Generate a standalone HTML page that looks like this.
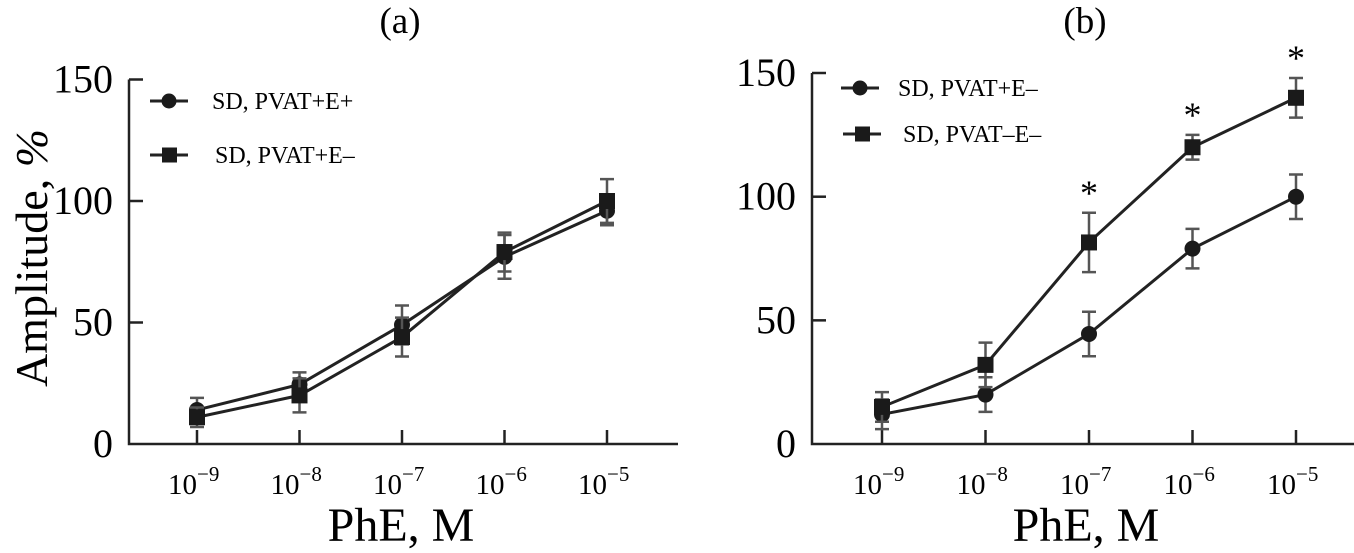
<!DOCTYPE html>
<html><head><meta charset="utf-8"><style>
html,body{margin:0;padding:0;background:#fff}
svg{display:block;font-family:"Liberation Serif",serif}
</style></head><body>
<svg id="c" width="1354" height="553" viewBox="0 0 1354 553"></svg>
<script>
const categories = ["−9","−8","−7","−6","−5"];
const yTicks = [0,50,100,150];
const aCircle = [14,24.5,49,77,96];
const aCircleErr = [5,5,8,9,6];
const aSquare = [11,20,44,79,100];
const aSquareErr = [4,7,8,8,9];
const bCircle = [12,20,44.5,79,100];
const bCircleErr = [6,7,9,8,9];
const bSquare = [15,32,81.5,120,140];
const bSquareErr = [6,9,12,5,8];
const bStars = [false,false,true,true,true];

const NS="http://www.w3.org/2000/svg";
const svg=document.getElementById('c');
function mk(tag,attrs,parent){const e=document.createElementNS(NS,tag);for(const k in attrs)e.setAttribute(k,attrs[k]);(parent||svg).appendChild(e);return e;}

function panel(p){
  const g=mk('g',{});
  
  
  const X=i=>p.x0+i*p.dx;
  const Y=v=>p.y0-v*p.ky;
  const t=mk('text',{x:p.titleX,y:33,'font-size':37,'text-anchor':'middle'},g);t.textContent=p.title;
  
  const ax=mk('path',{d:`M${p.ax} ${Y(150)} H${p.ax+14} M${p.ax} ${Y(150)} V${p.y0} H${p.axEnd}`,stroke:'#222','stroke-width':2.5,fill:'none'},g);
  
  yTicks.forEach(v=>{
    if(v>0&&v<150){const l=mk('line',{x1:p.ax,x2:p.ax+14,y1:Y(v),y2:Y(v),stroke:'#222','stroke-width':2.5},g);
    }
    const tl=mk('text',{x:p.ax-16,y:Y(v)+13,'font-size':40,'text-anchor':'end'},g);tl.textContent=v;
    
  });
  categories.forEach((c,i)=>{
    const l=mk('line',{x1:X(i),x2:X(i),y1:p.y0,y2:p.y0-14,stroke:'#222','stroke-width':2.5},g);
    
    const tl=mk('text',{x:X(i)-29,y:494,'font-size':29},g);
    
    const a=mk('tspan',{},tl);a.textContent='10';
    const b=mk('tspan',{dy:-13,'font-size':21},tl);b.textContent=c;
  });
  const xt=mk('text',{x:p.xTitleX,y:541,'font-size':48,'text-anchor':'middle'},g);xt.textContent='PhE, M';
  
  p.series.forEach(s=>{
    const sg=mk('g',{},g);
    
    s.vals.forEach((v,i)=>{
      const e=s.err[i],x=X(i);
      const eb=mk('path',{d:`M${x} ${Y(v+e)} V${Y(v-e)} M${x-7} ${Y(v+e)} H${x+7} M${x-7} ${Y(v-e)} H${x+7}`,stroke:'#555','stroke-width':2.5,fill:'none'},sg);
      
    });
    const pl=mk('polyline',{points:s.vals.map((v,i)=>X(i)+','+Y(v)).join(' '),stroke:'#222','stroke-width':3,fill:'none'},sg);
    
    s.vals.forEach((v,i)=>{
      let m;
      if(s.shape==='c')m=mk('circle',{cx:X(i),cy:Y(v),r:8,fill:'#1a1a1a'},sg);
      else m=mk('rect',{x:X(i)-8,y:Y(v)-8,width:16,height:16,fill:'#1a1a1a'},sg);
      
    });
    if(s.stars){s.vals.forEach((v,i)=>{if(s.stars[i]){
      const st=mk('text',{x:X(i),y:Y(v+s.err[i])-8,'font-size':36,'text-anchor':'middle'},sg);st.textContent='*';
      }});}
  });
  p.legend.forEach(L=>{
    const lg=mk('g',{},g);
    
    mk('line',{x1:L.x,x2:L.x+38,y1:L.y,y2:L.y,stroke:'#222','stroke-width':3},lg);
    if(L.shape==='c')mk('circle',{cx:L.x+19,cy:L.y,r:7.5,fill:'#1a1a1a'},lg);
    else mk('rect',{x:L.x+12,y:L.y-7.5,width:15,height:15,fill:'#1a1a1a'},lg);
    const tx=mk('text',{x:L.tx,y:L.y+8,'font-size':24},lg);tx.textContent=L.label;
  });
}

panel({name:'panel-a',title:'(a)',titleX:400,x0:197,dx:102.5,y0:444,ky:2.43,ax:129,axEnd:678,xTitleX:401,
  series:[{name:'series-pvat-plus-e-plus',shape:'c',vals:aCircle,err:aCircleErr},
          {name:'series-pvat-plus-e-minus',shape:'s',vals:aSquare,err:aSquareErr}],
  legend:[{x:150,y:101,tx:212,shape:'c',label:'SD, PVAT+E+'},{x:150,y:155,tx:215,shape:'s',label:'SD, PVAT+E–'}]});
panel({name:'panel-b',title:'(b)',titleX:1085,x0:882,dx:103.5,y0:444,ky:2.473,ax:812,axEnd:1354,xTitleX:1086,
  series:[{name:'series-pvat-plus-e-minus',shape:'c',vals:bCircle,err:bCircleErr},
          {name:'series-pvat-minus-e-minus',shape:'s',vals:bSquare,err:bSquareErr,stars:bStars}],
  legend:[{x:841,y:88,tx:898,shape:'c',label:'SD, PVAT+E–'},{x:843,y:134,tx:903,shape:'s',label:'SD, PVAT–E–'}]});

const yt=mk('text',{x:0,y:0,'font-size':46,'text-anchor':'middle',transform:'translate(47,258) rotate(-90)'});

const t1=mk('tspan',{},yt);t1.textContent='Amplitude, ';
const t2=mk('tspan',{'font-style':'italic'},yt);t2.textContent='%';
</script>
</body></html>
